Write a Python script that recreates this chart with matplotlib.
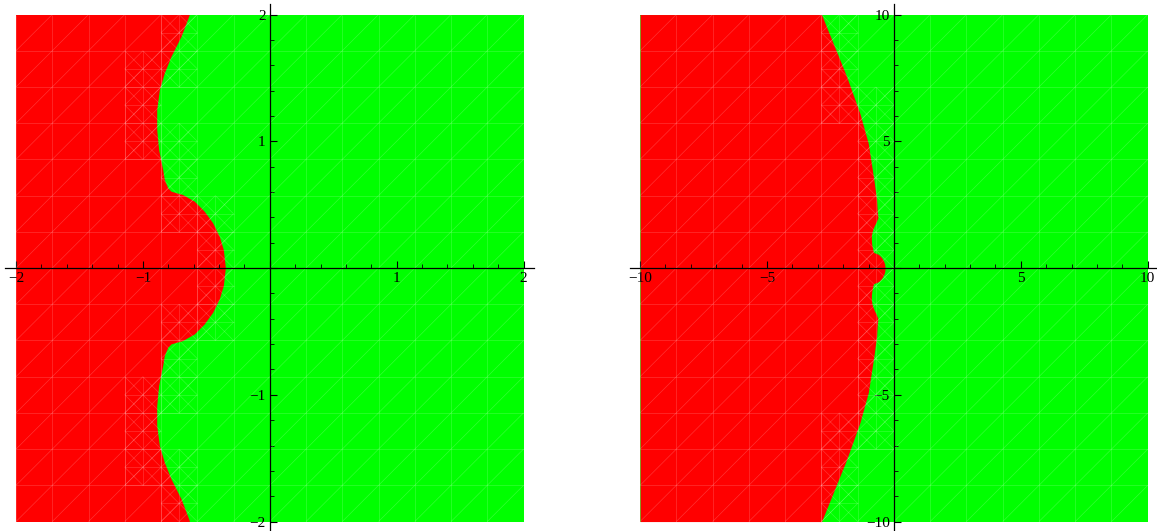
import numpy as np
import matplotlib
matplotlib.use("Agg")
import matplotlib.pyplot as plt
from matplotlib.patches import Rectangle
from matplotlib.collections import LineCollection
from matplotlib.ticker import MultipleLocator, FuncFormatter

# boundary of the red region, upper half, mirrored below
bound_y = [0.0, 0.142, 0.247, 0.353, 0.444, 0.523, 0.576, 0.602, 0.629, 0.694,
           0.773, 0.931, 1.089, 1.247, 1.404, 1.536, 1.667, 1.825, 1.996,
           2.29, 2.68, 3.47, 4.92, 6.10, 7.55, 8.86, 10.0]
bound_x = [-0.346, -0.362, -0.394, -0.446, -0.512, -0.59, -0.683, -0.774, -0.80, -0.827,
           -0.84, -0.872, -0.887, -0.887, -0.866, -0.827, -0.774, -0.695, -0.63,
           -0.66, -0.68, -0.787, -1.01, -1.34, -1.86, -2.39, -2.85]

plot_ranges = [2, 10]
major_steps = [1, 5]
minor_steps = [0.2, 1]

RED = "#ff0000"
GREEN = "#00ff00"

by = np.array(bound_y)
bx = np.array(bound_x)
y_full = np.concatenate([-by[::-1], by[1:]])
x_full = np.concatenate([bx[::-1], bx[1:]])


def near_boundary(cx0, cx1, cy0, cy1, margin):
    ys = np.linspace(cy0, cy1, 9)
    xs = np.interp(ys, y_full, x_full)
    return xs.min() - margin <= cx1 and xs.max() + margin >= cx0


def mesh_segments(r, n=14, depth=1):
    segs = []
    h = 2 * r / n

    def cell(x0, y0, size, level, both):
        x1, y1 = x0 + size, y0 + size
        segs.append([(x0, y0), (x1, y0)])
        segs.append([(x0, y0), (x0, y1)])
        segs.append([(x0, y0), (x1, y1)])
        if both:
            segs.append([(x0, y1), (x1, y0)])
        if level < depth and near_boundary(x0, x1, y0, y1, 0):
            half = size / 2
            for dx in (0, half):
                for dy in (0, half):
                    cell(x0 + dx, y0 + dy, half, level + 1, True)

    for i in range(n):
        for j in range(n):
            cell(-r + i * h, -r + j * h, h, 0, False)
    return segs


fig = plt.figure(figsize=(11.57, 5.31), dpi=100)
positions = [[0.00475, -0.002, 0.4568, 0.9944], [0.5441, -0.002, 0.457, 0.9944]]

for pos, r, maj, mnr in zip(positions, plot_ranges, major_steps, minor_steps):
    ax = fig.add_axes(pos)
    ext = r * 0.0414
    ax.set_xlim(-r - ext, r + ext)
    ax.set_ylim(-r - ext, r + ext)

    clip = Rectangle((-r, -r), 2 * r, 2 * r, transform=ax.transData)
    ax.fill_betweenx([-r, r], -r, r, color=GREEN, lw=0, zorder=0)
    red = ax.fill_betweenx(y_full, -r, x_full, color=RED, lw=0, zorder=1)
    red.set_clip_path(clip)

    lc = LineCollection(mesh_segments(r), colors="white", linewidths=0.5,
                        alpha=0.2, zorder=2)
    ax.add_collection(lc)
    lc.set_clip_path(clip)

    for s in ["top", "right"]:
        ax.spines[s].set_visible(False)
    for s in ["left", "bottom"]:
        ax.spines[s].set_position(("data", 0))
        ax.spines[s].set_linewidth(0.9)
        ax.spines[s].set_zorder(5)

    ax.xaxis.set_major_locator(MultipleLocator(maj))
    ax.yaxis.set_major_locator(MultipleLocator(maj))
    ax.xaxis.set_minor_locator(MultipleLocator(mnr))
    ax.yaxis.set_minor_locator(MultipleLocator(mnr))
    fmt = FuncFormatter(lambda v, p: "" if abs(v) < 1e-9 or abs(v) > r + 1e-9
                        else ("\u2212%g" % -v if v < 0 else "%g" % v))
    ax.xaxis.set_major_formatter(fmt)
    ax.yaxis.set_major_formatter(fmt)
    ax.tick_params(which="major", direction="in", length=5, width=0.8, pad=3,
                   labelsize=11, colors="black")
    ax.tick_params(which="minor", direction="in", length=3, width=0.6)
    for lab in ax.get_xticklabels() + ax.get_yticklabels():
        lab.set_family("Liberation Serif")

fig.savefig("out.png", dpi=100)
